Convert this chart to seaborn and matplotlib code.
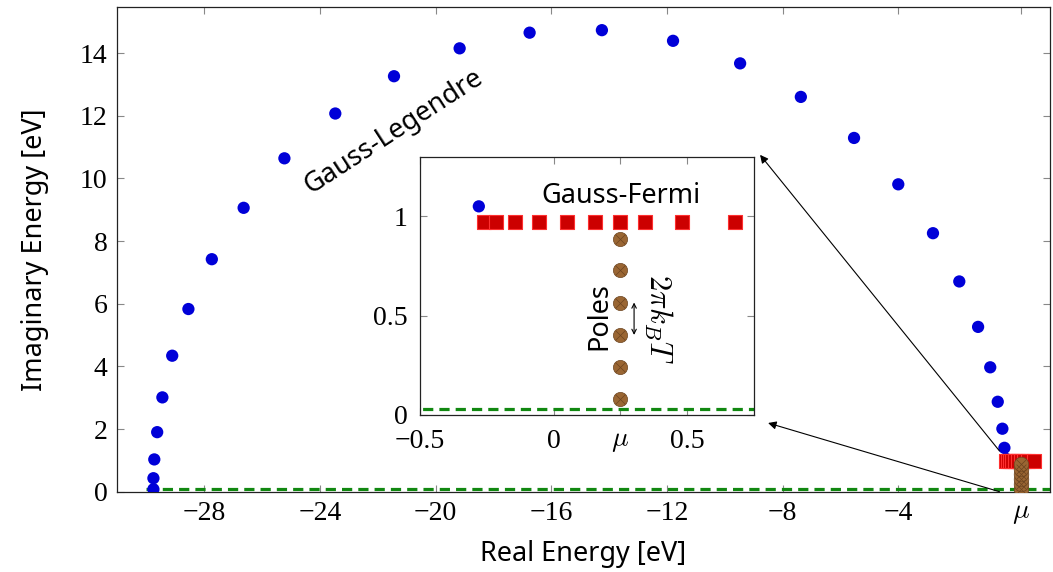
import matplotlib
matplotlib.use("Agg")
import matplotlib.pyplot as plt
import seaborn as sns
import pandas as pd
from matplotlib.patches import ConnectionPatch

# ---------------- data ----------------
mu = 0.25
# Gauss-Legendre contour points (real, imaginary) [eV]
gl_re = [-29.76, -29.76, -29.73, -29.63, -29.45, -29.11, -28.55, -27.74, -26.64, -25.23,
         -23.47, -21.44, -19.17, -16.75, -14.25, -11.79, -9.47, -7.37, -5.53, -4.00,
         -2.80, -1.89, -1.24, -0.82, -0.56, -0.40, -0.33, -0.28]
gl_im = [0.077, 0.43, 1.03, 1.90, 3.01, 4.34, 5.83, 7.42, 9.06, 10.64,
         12.07, 13.26, 14.15, 14.65, 14.73, 14.39, 13.67, 12.60, 11.29, 9.81,
         8.25, 6.71, 5.26, 3.97, 2.87, 2.01, 1.40, 1.05]
# Gauss-Fermi points
gf_re = [-0.259, -0.217, -0.146, -0.055, 0.050, 0.155, 0.247, 0.342, 0.480, 0.678]
gf_im = [0.97] * len(gf_re)
# Poles of the Fermi function
pole_re = [mu] * 6
pole_im = [0.079, 0.241, 0.403, 0.566, 0.731, 0.888]
# real-axis reference line
line_re = [-30.0, 5.0]
line_im_main = [0.1, 0.1]
line_im_inset = [0.03, 0.03]

main_xticks = [-28, -24, -20, -16, -12, -8, -4, mu]
main_xticklabels = ["\u221228", "\u221224", "\u221220", "\u221216", "\u221212", "\u22128", "\u22124", "$\\mu$"]
main_yticks = [0, 2, 4, 6, 8, 10, 12, 14]
inset_xticks = [-0.5, 0, mu, 0.5]
inset_xticklabels = ["\u22120.5", "0", "$\\mu$", "0.5"]
inset_yticks = [0, 0.5, 1]
inset_yticklabels = ["0", "0.5", "1"]

gl = pd.DataFrame({"re": gl_re, "im": gl_im})
gf = pd.DataFrame({"re": gf_re, "im": gf_im})
poles = pd.DataFrame({"re": pole_re, "im": pole_im})
line_main = pd.DataFrame({"re": line_re, "im": line_im_main})
line_inset = pd.DataFrame({"re": line_re, "im": line_im_inset})

# ---------------- style ----------------
sns.set_theme(style="white")
plt.rcParams["font.family"] = ["Noto Sans", "DejaVu Sans"]
plt.rcParams["mathtext.fontset"] = "cm"
plt.rcParams["text.color"] = "black"
plt.rcParams["axes.labelcolor"] = "black"
TICKFONT = "Liberation Serif"
LABEL_FS = 19.5

BLUE = "#0000d8"
RED_FACE = "#cc0000"
RED_EDGE = "#ff3030"
BROWN = "#9a6633"
BROWN_DARK = "#6b4420"
GREEN = "#118811"

fig = plt.figure(figsize=(10.53, 5.72), dpi=100)
ax = fig.add_axes([0.1111, 0.1404, 0.886, 0.8474])
axins = fig.add_axes([0.3989, 0.2745, 0.3172, 0.4516])


def draw_series(a, line_df, ms_blue, ms_sq, ms_pole):
    sns.lineplot(data=line_df, x="re", y="im", ax=a, color=GREEN, lw=2.3,
                 dashes=False, linestyle=(0, (3.2, 1.9)), zorder=2, legend=False)
    sns.scatterplot(data=gl, x="re", y="im", ax=a, color=BLUE, s=ms_blue,
                    edgecolor="none", zorder=3, legend=False)
    sns.scatterplot(data=gf, x="re", y="im", ax=a, color=RED_FACE, marker="s",
                    s=ms_sq, edgecolor=RED_EDGE, linewidth=0.8, zorder=4, legend=False)
    sns.scatterplot(data=poles, x="re", y="im", ax=a, color=BROWN, s=ms_pole,
                    edgecolor=BROWN_DARK, linewidth=0.5, zorder=5, legend=False)
    sns.scatterplot(data=poles, x="re", y="im", ax=a, color=BROWN_DARK, marker="x",
                    s=ms_pole * 0.45, linewidth=0.5, zorder=6, legend=False)


def style_axes(a, xpad=7, ypad=7):
    for sp in a.spines.values():
        sp.set_color("#222222")
        sp.set_linewidth(0.9)
        sp.set_visible(True)
    a.tick_params(direction="in", length=5, width=0.8, color="#888888",
                  top=True, right=True, bottom=True, left=True,
                  labelsize=20, labelcolor="black")
    a.tick_params(axis="x", pad=xpad)
    a.tick_params(axis="y", pad=ypad)
    for lab in a.get_xticklabels() + a.get_yticklabels():
        lab.set_family(TICKFONT)
    a.set_facecolor("white")


# ---- main axes ----
draw_series(ax, line_main, ms_blue=78, ms_sq=115, ms_pole=110)
ax.set_xlim(-31.02, 1.245)
ax.set_ylim(0, 15.47)
ax.set_xticks(main_xticks, labels=main_xticklabels)
ax.set_yticks(main_yticks, labels=[str(v) for v in main_yticks])
style_axes(ax)
ax.set_xlabel("Real Energy [eV]", fontsize=LABEL_FS, labelpad=10)
ax.set_ylabel("Imaginary Energy [eV]", fontsize=LABEL_FS, labelpad=22)
ax.text(-21.45, 11.5, "Gauss-Legendre", rotation=33, rotation_mode="anchor",
        ha="center", va="center", fontsize=LABEL_FS)

# ---- inset ----
draw_series(axins, line_inset, ms_blue=78, ms_sq=100, ms_pole=105)
axins.set_xlim(-0.5, 0.75)
axins.set_ylim(0, 1.3)
axins.set_xticks(inset_xticks, labels=inset_xticklabels)
axins.set_yticks(inset_yticks, labels=inset_yticklabels)
style_axes(axins, xpad=10, ypad=9)
axins.set_xlabel("")
axins.set_ylabel("")
axins.text(mu, 1.10, "Gauss-Fermi", ha="center", va="center", fontsize=LABEL_FS)
axins.text(0.172, 0.496, "Poles", rotation=90, ha="center", va="center", fontsize=LABEL_FS)
axins.text(0.392, 0.48, "$2\\pi k_B T$", rotation=-90, ha="center", va="center", fontsize=22)
axins.annotate("", xy=(0.301, pole_im[2]), xytext=(0.301, pole_im[3]),
               arrowprops=dict(arrowstyle="<->", lw=0.8, color="black",
                               shrinkA=0, shrinkB=0, mutation_scale=8))

# ---- connecting arrows ----
for (ya, xb, yb) in [(1.3, 1.018, 1.007), (0.0, 1.042, -0.031)]:
    con = ConnectionPatch(xyA=(-0.5, ya), coordsA="data", axesA=ax,
                          xyB=(xb, yb), coordsB="axes fraction", axesB=axins,
                          arrowstyle="-|>", color="black", lw=0.8,
                          mutation_scale=12, shrinkA=0, shrinkB=0, zorder=10)
    fig.add_artist(con)

fig.savefig("out.png", dpi=100)
